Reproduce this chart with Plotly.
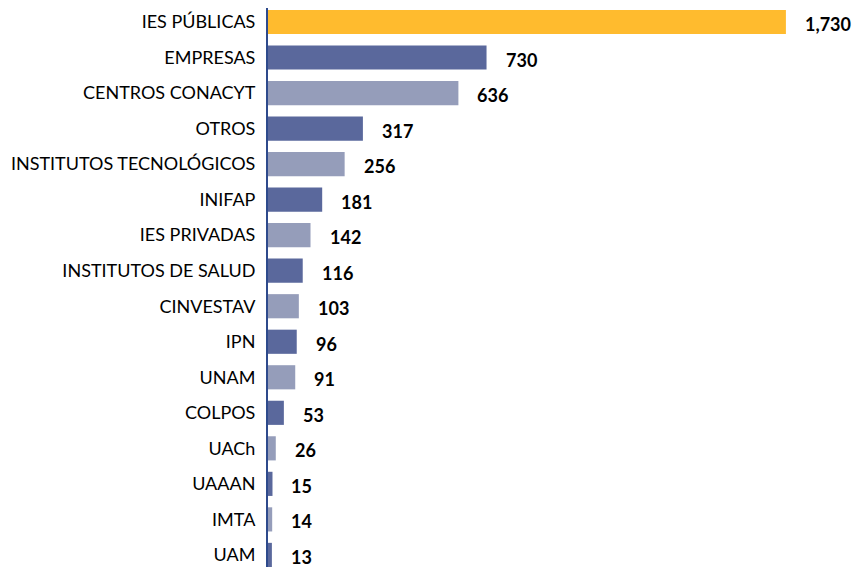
import plotly.graph_objects as go

categories = [
    "IES PÚBLICAS", "EMPRESAS", "CENTROS CONACYT", "OTROS",
    "INSTITUTOS TECNOLÓGICOS", "INIFAP", "IES PRIVADAS", "INSTITUTOS DE SALUD",
    "CINVESTAV", "IPN", "UNAM", "COLPOS", "UACh", "UAAAN", "IMTA", "UAM",
]
values = [1730, 730, 636, 317, 256, 181, 142, 116, 103, 96, 91, 53, 26, 15, 14, 13]

GOLD = "#FFBB2E"
DARK = "#5A689C"
LIGHT = "#959DBA"
AXIS = "#2E4A8C"
FONT = "Lato, Open Sans, sans-serif"

colors = [GOLD] + [DARK if i % 2 == 1 else LIGHT for i in range(1, len(values))]

fig = go.Figure()
fig.add_trace(go.Bar(
    x=values, y=categories, orientation="h",
    marker=dict(color=colors, line=dict(width=0)),
    width=0.68,
    hoverinfo="x+y",
))

for cat, val in zip(categories, values):
    fig.add_annotation(
        x=val, y=cat, text=f"{val:,}", showarrow=False,
        xanchor="left", xshift=17, yshift=-2,
        font=dict(family=FONT, size=18, color="#000000", weight="bold"),
    )

fig.update_layout(
    width=853, height=567,
    margin=dict(l=268, r=15, t=8, b=0, autoexpand=False),
    paper_bgcolor="white", plot_bgcolor="white",
    showlegend=False,
    font=dict(family=FONT, size=18, color="#000000"),
    xaxis=dict(range=[0, 1904], showgrid=False, zeroline=False, showticklabels=False,
               showline=False, fixedrange=True, automargin=False),
    yaxis=dict(range=[15.34, -0.394], showgrid=False, zeroline=False, automargin=False,
               showline=True, linecolor=AXIS, linewidth=2,
               ticks="", ticklabelstandoff=7, tickfont=dict(size=18)),
)

# drop the browser's default 8px body margin so the figure fills the window
fig.write_html(
    "out.html",
    config={"displayModeBar": False},
    post_script="document.body.style.margin = '0px';",
)
